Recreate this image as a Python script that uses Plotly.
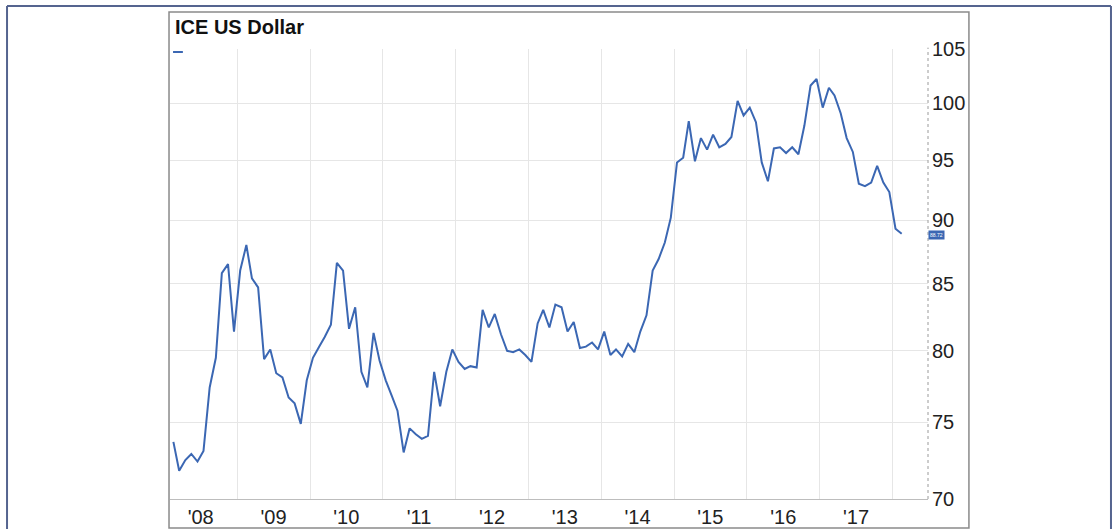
import numpy as np
import pandas as pd
import plotly.graph_objects as go

# ICE US Dollar index, monthly (Feb 2008 - Feb 2018)
dates = pd.date_range("2008-02-01", periods=121, freq="MS") + pd.Timedelta(days=14)
values = [
    73.7, 71.8, 72.5, 72.9, 72.4, 73.1, 77.4, 79.5, 85.8, 86.5, 81.4,
    86.0, 88.0, 85.4, 84.7, 79.4, 80.1, 78.4, 78.1, 76.7, 76.3, 74.9,
    77.9, 79.5, 80.3, 81.0, 81.9, 86.6, 86.0, 81.6, 83.2, 78.5, 77.4,
    81.3, 79.3, 77.9, 76.8, 75.8, 73.0, 74.6, 74.2, 73.9, 74.1, 78.5,
    76.1, 78.5, 80.1, 79.2, 78.7, 78.9, 78.8, 83.0, 81.7, 82.7, 81.2,
    80.0, 79.9, 80.1, 79.7, 79.2, 82.0, 83.0, 81.7, 83.4, 83.2, 81.4,
    82.1, 80.2, 80.3, 80.6, 80.1, 81.4, 79.7, 80.1, 79.6, 80.5, 79.9,
    81.4, 82.6, 86.0, 86.9, 88.2, 90.2, 94.8, 95.2, 98.4, 94.9, 96.9,
    95.9, 97.2, 96.1, 96.4, 97.0, 100.2, 98.9, 99.6, 98.3, 94.8, 93.2,
    96.0, 96.1, 95.6, 96.1, 95.5, 98.0, 101.6, 102.2, 99.6, 101.4, 100.7,
    99.1, 96.9, 95.7, 93.0, 92.8, 93.1, 94.5, 93.1, 92.3, 89.3, 88.9,
]
last_label = "88.72"
title_text = "ICE US Dollar"

year_labels = ["'08", "'09", "'10", "'11", "'12", "'13", "'14", "'15", "'16", "'17"]
label_dates = [f"{2008 + i}-07-01" for i in range(len(year_labels))]
grid_dates = [f"{2009 + i}-01-01" for i in range(10)]
y_ticks = [70, 75, 80, 85, 90, 95, 100, 105]

FONT = "Liberation Sans, Arial, sans-serif"
LINE = "#3b67b3"

fig = go.Figure()
fig.add_trace(go.Scatter(
    x=dates, y=values, mode="lines",
    line=dict(color=LINE, width=2),
    showlegend=False, hoverinfo="x+y",
))

fig.update_layout(
    width=1114, height=529,
    margin=dict(l=170, r=186, t=49, b=30),
    paper_bgcolor="white", plot_bgcolor="white",
    font=dict(family=FONT, color="#222"),
    xaxis=dict(
        type="date", automargin=False,
        range=["2008-01-29", "2018-06-27"],
        tickvals=label_dates, ticktext=year_labels,
        showgrid=False, ticks="", tickfont=dict(size=20, color="#222"),
        showline=True, linecolor="#bdbdbd", linewidth=1,
        minor=dict(tickvals=grid_dates, showgrid=True, gridcolor="#e6e6e6", gridwidth=1, ticks=""),
        zeroline=False,
    ),
    yaxis=dict(
        type="log", side="right", automargin=False,
        range=[np.log10(70), np.log10(105)],
        tickvals=y_ticks, ticktext=[str(v) for v in y_ticks],
        showgrid=True, gridcolor="#e6e6e6", gridwidth=1,
        ticks="", tickfont=dict(size=20, color="#222"),
        ticklabelstandoff=3,
        showline=False, zeroline=False,
    ),
)

# decorations: outer frame, inner chart box, dotted right axis line
shapes = [
    dict(type="line", xref="paper", yref="paper", x0=-0.215, x1=1.2414, y0=1.0956, y1=1.0956,
         line=dict(color="#55648f", width=2)),
    dict(type="line", xref="paper", yref="paper", x0=-0.215, x1=-0.215, y0=1.0956, y1=-0.12,
         line=dict(color="#55648f", width=2)),
    dict(type="line", xref="paper", yref="paper", x0=1.2414, x1=1.2414, y0=1.0956, y1=-0.12,
         line=dict(color="#55648f", width=2)),
    dict(type="rect", xref="paper", yref="paper", x0=-0.0013, x1=1.054, y0=-0.0644, y1=1.0822,
         line=dict(color="#8a8a8a", width=1.5)),
    dict(type="line", xref="paper", yref="paper", x0=1, x1=1, y0=0, y1=1.003,
         line=dict(color="#9a9a9a", width=1, dash="dot")),
    dict(type="line", xref="paper", yref="paper", x0=0.004, x1=0.017, y0=0.9933, y1=0.9933,
         line=dict(color=LINE, width=2)),
]
fig.update_layout(shapes=shapes)

fig.add_annotation(
    xref="paper", yref="paper", x=0.004, y=1.049, xanchor="left", yanchor="middle",
    text=f"<b>{title_text}</b>", showarrow=False,
    font=dict(size=20, family=FONT, color="#111"),
)
fig.add_annotation(
    xref="paper", yref="y", x=1.0, y=np.log10(values[-1]) - 0.0005, xanchor="left", yanchor="middle",
    text=last_label, showarrow=False,
    font=dict(size=5, family=FONT, color="white"),
    bgcolor=LINE, borderpad=1,
)

fig.write_html(
    "out.html",
    config={"displayModeBar": False},
    post_script="document.body.style.margin='0';document.body.style.overflow='hidden';",
)
